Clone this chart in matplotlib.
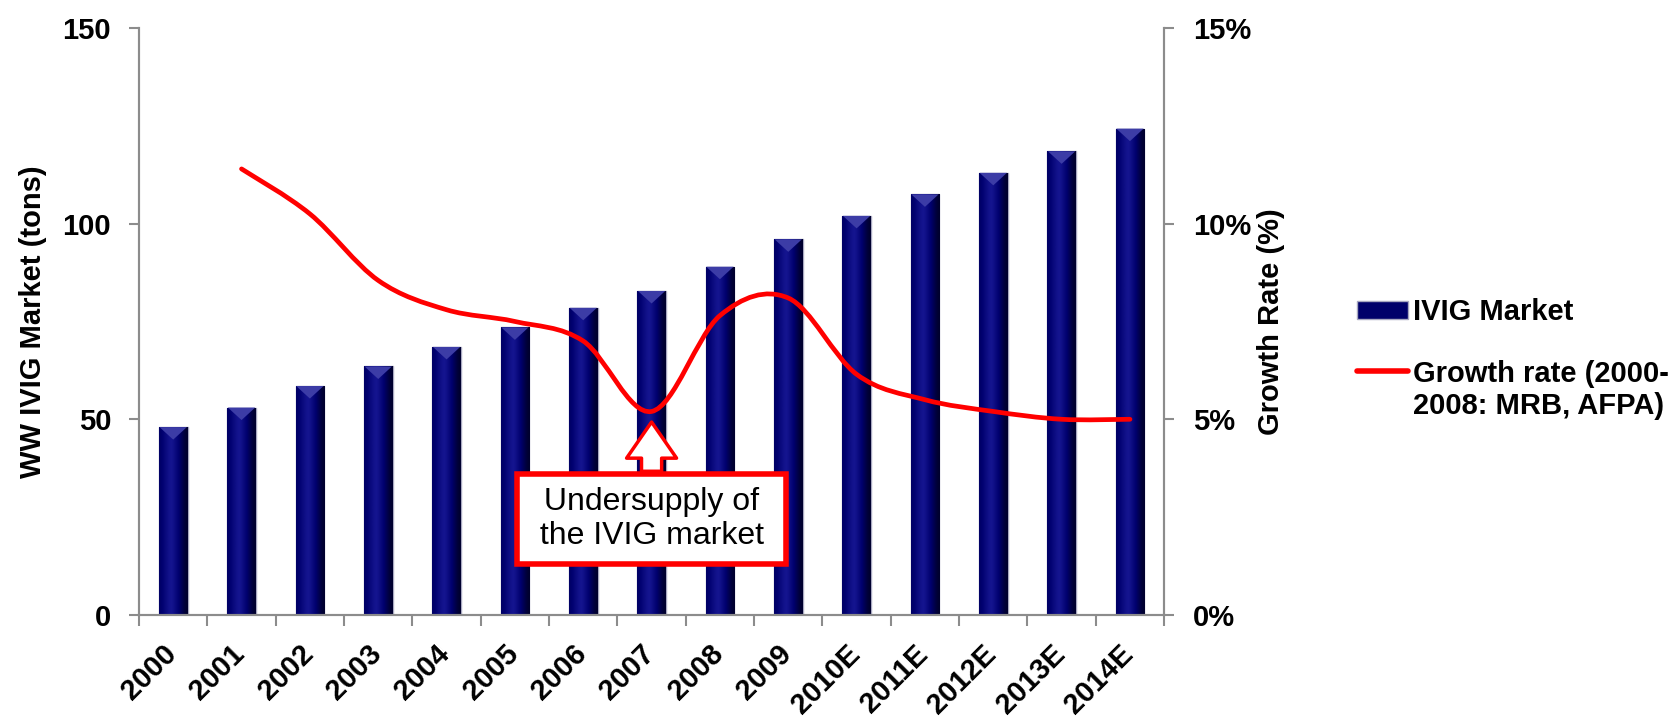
import numpy as np
import matplotlib
matplotlib.use("Agg")
import matplotlib.pyplot as plt
from matplotlib.path import Path
from matplotlib.patches import PathPatch, Patch, Polygon
from matplotlib.lines import Line2D
from matplotlib.legend_handler import HandlerLine2D
from matplotlib.ticker import FuncFormatter, FixedLocator
from matplotlib.colors import LinearSegmentedColormap

# data
years = ["2000", "2001", "2002", "2003", "2004", "2005", "2006", "2007",
         "2008", "2009", "2010E", "2011E", "2012E", "2013E", "2014E"]
market = [48, 53, 58.5, 63.5, 68.5, 73.5, 78.5, 82.8, 89, 96, 102, 107.5, 113, 118.5, 124.3]
growth_years = years[1:]
growth = [11.4, 10.25, 8.55, 7.8, 7.5, 7.0, 5.2, 7.65, 8.1, 6.15, 5.5, 5.2, 5.0, 5.0]

plt.rcParams['font.family'] = ['Liberation Sans', 'DejaVu Sans']
FS = 21
GRAY = '#8c8c8c'

fig = plt.figure(figsize=(16.75, 7.2), dpi=100)
ax = fig.add_axes([0.083, 0.146, 0.612, 0.815])
ax2 = ax.twinx()

x = np.arange(len(years))

# bars with a horizontal shading, clipped to each bar
bars = ax.bar(x, market, width=0.42, color='#000070', edgecolor='#a8a8c0',
              linewidth=1, zorder=2)
navy = LinearSegmentedColormap.from_list('nav', ['#000018', '#00006e', '#1a1a98'])
shade = np.array([[0.45, 0.62, 0.80, 0.95, 0.70, 0.50, 0.30, 0.12]])
for b in bars:
    x0, w, h = b.get_x(), b.get_width(), b.get_height()
    im = ax.imshow(shade, cmap=navy, vmin=0, vmax=1,
                   extent=[x0, x0 + w, 0, h], aspect='auto', zorder=2.5,
                   interpolation='bicubic')
    im.set_clip_path(b)
    ax.add_patch(Polygon([(x0 + 0.01, h), (x0 + w - 0.01, h), (x0 + w / 2, h - 3.2)],
                         closed=True, fc='#3c3ca6', ec='none', zorder=3))

ax.set_xlim(-0.5, len(years) - 0.5)
ax.set_ylim(0, 150)
ax.set_yticks([0, 50, 100, 150])
ax2.set_ylim(0, 15)
ax2.set_yticks([0, 5, 10, 15])
ax2.yaxis.set_major_formatter(FuncFormatter(lambda v, p: '%d%%' % v))

# smoothed growth line (Excel-style smoothing through the points)
gx = np.array([years.index(y) for y in growth_years], dtype=float)
gy = np.array(growth, dtype=float)
pts = np.column_stack([gx, gy])
ext = np.vstack([pts[0], pts, pts[-1]])
verts = [tuple(pts[0])]
codes = [Path.MOVETO]
for i in range(len(pts) - 1):
    p0, p1, p2, p3 = ext[i], ext[i + 1], ext[i + 2], ext[i + 3]
    c1 = p1 + (p2 - p0) / 6.0
    c2 = p2 - (p3 - p1) / 6.0
    verts += [tuple(c1), tuple(c2), tuple(p2)]
    codes += [Path.CURVE4] * 3
ax2.add_patch(PathPatch(Path(verts, codes), facecolor='none', edgecolor='#ff0000',
                        linewidth=3.4, capstyle='round', zorder=4))

# annotation
ax2.annotate('', xy=(7, 5.0), xytext=(7, 3.6),
             arrowprops=dict(arrowstyle='simple,head_width=3.6,head_length=2.6,tail_width=1.45',
                             mutation_scale=10, fc='white', ec='#ff0000', lw=2.5),
             zorder=5)
ax2.text(7, 2.45, ' Undersupply of \n the IVIG market ', ha='center', va='center',
         fontsize=23, linespacing=1.15, zorder=6,
         bbox=dict(boxstyle='square,pad=0.42', fc='white', ec='#ff0000', lw=4))

# axes styling
for a in (ax, ax2):
    a.spines['top'].set_visible(False)
    for s in ('left', 'right', 'bottom'):
        a.spines[s].set_color(GRAY)
        a.spines[s].set_linewidth(1.5)

ax.tick_params(axis='y', direction='out', length=7, width=1.5, color=GRAY,
               labelsize=FS, pad=13)
ax2.tick_params(axis='y', direction='out', length=7, width=1.5, color=GRAY,
                labelsize=FS, pad=14)
for lab in ax.get_yticklabels() + ax2.get_yticklabels():
    lab.set_fontweight('bold')

ax.set_xticks(x)
ax.set_xticklabels(years, rotation=45, ha='right', va='top', rotation_mode='anchor',
                   fontsize=FS, fontweight='bold')
ax.tick_params(axis='x', which='major', length=0, pad=18)
ax.xaxis.set_minor_locator(FixedLocator(np.arange(-0.5, len(years), 1.0)))
ax.tick_params(axis='x', which='minor', direction='out', length=8, width=1.5, color=GRAY)
for lab in ax.get_xticklabels():
    lab.set_transform(lab.get_transform() + matplotlib.transforms.ScaledTranslation(
        -0.11, 0, fig.dpi_scale_trans))

ax.set_ylabel('WW IVIG Market (tons)', fontsize=FS, fontweight='bold')
ax.yaxis.set_label_coords(-0.090, 0.5)
ax2.set_ylabel('Growth Rate (%)', fontsize=FS, fontweight='bold')
ax2.yaxis.set_label_coords(1.091, 0.5)


class FirstLineHandler(HandlerLine2D):
    def create_artists(self, legend, orig_handle, xdescent, ydescent, width,
                       height, fontsize, trans):
        arts = super().create_artists(legend, orig_handle, xdescent, ydescent,
                                      width, height, fontsize, trans)
        for a in arts:
            a.set_ydata(np.asarray(a.get_ydata()) + 15)
        return arts


h_bar = Patch(facecolor='#00006a', edgecolor='#a8a8c0')
h_line = Line2D([], [], color='#ff0000', lw=4, solid_capstyle='round')
fig.legend([h_bar, h_line], ['IVIG Market', 'Growth rate (2000-\n2008: MRB, AFPA)'],
           handler_map={h_line: FirstLineHandler()},
           loc='upper left', bbox_to_anchor=(0.81, 0.5855), frameon=False,
           prop=dict(size=FS, weight='bold'), handlelength=1.75, handleheight=0.55,
           handletextpad=0.18, labelspacing=1.15, borderpad=0, borderaxespad=0)

fig.savefig('out.png', dpi=100)
